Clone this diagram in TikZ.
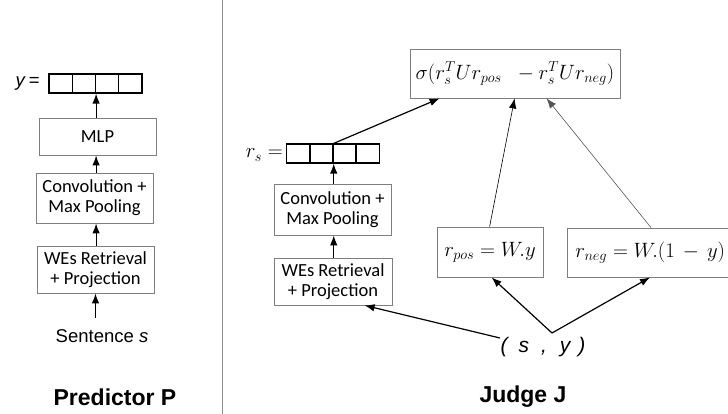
\documentclass[tikz,border=0pt]{standalone}
\usepackage{fontspec}
\usetikzlibrary{arrows.meta,calc}
\newfontfamily\cbfont{Carlito}
\newfontfamily\arfont{Liberation Sans}
\definecolor{boxgray}{HTML}{7F7F7F}
\definecolor{divgray}{HTML}{8C8C8C}
\definecolor{thingray}{HTML}{555555}
\tikzset{
  blk/.style={draw=boxgray, line width=0.8pt, fill=white, align=center, inner sep=0pt,
    font=\cbfont\fontsize{18.5}{20}\selectfont},
  mblk/.style={draw=boxgray, line width=0.8pt, fill=white, inner sep=0pt,
    font=\fontsize{20.5}{24}\selectfont},
  cell/.style={draw=black, line width=1.2pt, minimum width=23.25pt, minimum height=19pt, inner sep=0pt},
  arr/.style={-{Latex[length=10pt,width=7.5pt]}, line width=1.2pt},
  thinarr/.style={-{Latex[length=10pt,width=7.5pt]}, line width=0.6pt},
  mathlbl/.style={font=\fontsize{22}{26}\selectfont, inner sep=0pt},
  sanslbl/.style={font=\arfont\fontsize{18.5}{22}\selectfont, inner sep=0pt},
  paneltitle/.style={font=\arfont\bfseries\fontsize{23}{27}\selectfont, inner sep=0pt}
}
\begin{document}
\begin{tikzpicture}[x=1pt,y=-1pt]
\useasboundingbox (0,0) rectangle (728,414);
\clip (0,0) rectangle (728,414);

% divider between the two panels
\draw[divgray, line width=0.9pt] (222,0) -- (222,414);

% ---------------- Predictor P ----------------
\foreach \i in {1,...,4}
  \node[cell] (yc\i) at ({49+23.25*(\i-0.5)},83.5) {};
\node[sanslbl, anchor=east] (ylbl) at (40,84) {\textit{y}\,=};
\node[blk, minimum width=117pt, minimum height=37pt] (mlpL) at (97.5,136.5) {MLP};
\node[blk, minimum width=117pt, minimum height=50pt] (convL) at (94.5,198) {Convolution +\\Max Pooling};
\node[blk, minimum width=117pt, minimum height=47pt] (wesL) at (95.5,269.5) {WEs Retrieval\\+ Projection};
\node[sanslbl] (sent) at (102,336) {Sentence \textit{s}};
\coordinate (sentTop) at (95.5,318);

\draw[arr] (mlpL.north -| yc2.south east) -- (yc2.south east);
\draw[arr] (convL.north -| yc2.south east) -- (mlpL.south -| yc2.south east);
\draw[arr] (wesL.north -| yc2.south east) -- (convL.south -| yc2.south east);
\draw[arr] (sentTop) -- (wesL.south -| sentTop);

\node[paneltitle] (ptitle) at (115,397) {Predictor P};

% ---------------- Judge J ----------------
\foreach \i in {1,...,4}
  \node[cell] (rc\i) at ({287+23*(\i-0.5)},153.5) {};
\node[mathlbl, anchor=east] (rslbl) at (283,155) {$r_s =$};
\node[blk, minimum width=117pt, minimum height=51pt] (convR) at (332.5,209.5) {Convolution +\\Max Pooling};
\node[blk, minimum width=118pt, minimum height=47pt] (wesR) at (333,281.5) {WEs Retrieval\\+ Projection};

\node[mblk, minimum width=210pt, minimum height=49pt] (sig) at (515,73.5)
  {$\sigma\bigl(r_s^T U r_{pos}\;\; - r_s^T U r_{neg}\bigr)$};
\node[mblk, minimum width=106pt, minimum height=50pt] (rpos) at (490,252) {$r_{pos} = W.y$};
% the r_neg box runs on past the right edge
\node[mblk, minimum width=178pt, minimum height=49pt, anchor=west] (rneg) at (567,252.5) {};
\node[mblk, draw=none, fill=none, anchor=west] (rnegtxt) at ([xshift=8pt]rneg.west)
  {$r_{neg} = W.(1\,-\,y)$};

\node[font=\arfont\itshape\fontsize{21}{25}\selectfont, inner sep=0pt] (sy) at (543,347)
  {(\hspace{11pt}s\hspace{12pt},\hspace{13pt}y\hspace{8pt})};
\coordinate (apex) at (552,333);
\coordinate (paren) at (500,338);

\draw[arr] (wesR.north -| rc2.south east) -- (convR.south -| rc2.south east);
\draw[arr] (convR.north -| rc2.south east) -- (rc2.south east);
\draw[arr] (rc2.north east) -- ([xshift=30pt]sig.south west);
\draw[thinarr] ([xshift=53pt]rpos.north west) -- ([xshift=105pt]sig.south west);
\draw[thinarr, draw=thingray] ([xshift=84pt]rneg.north west) -- ([xshift=137pt]sig.south west);
\draw[arr] (apex) -- ([xshift=55pt]rpos.south west);
\draw[arr] (apex) -- ([xshift=83pt]rneg.south west);
\draw[arr] (paren) -- ([xshift=91pt]wesR.south west);

\node[paneltitle] (jtitle) at (523,397) {Judge J};
\end{tikzpicture}
\end{document}
